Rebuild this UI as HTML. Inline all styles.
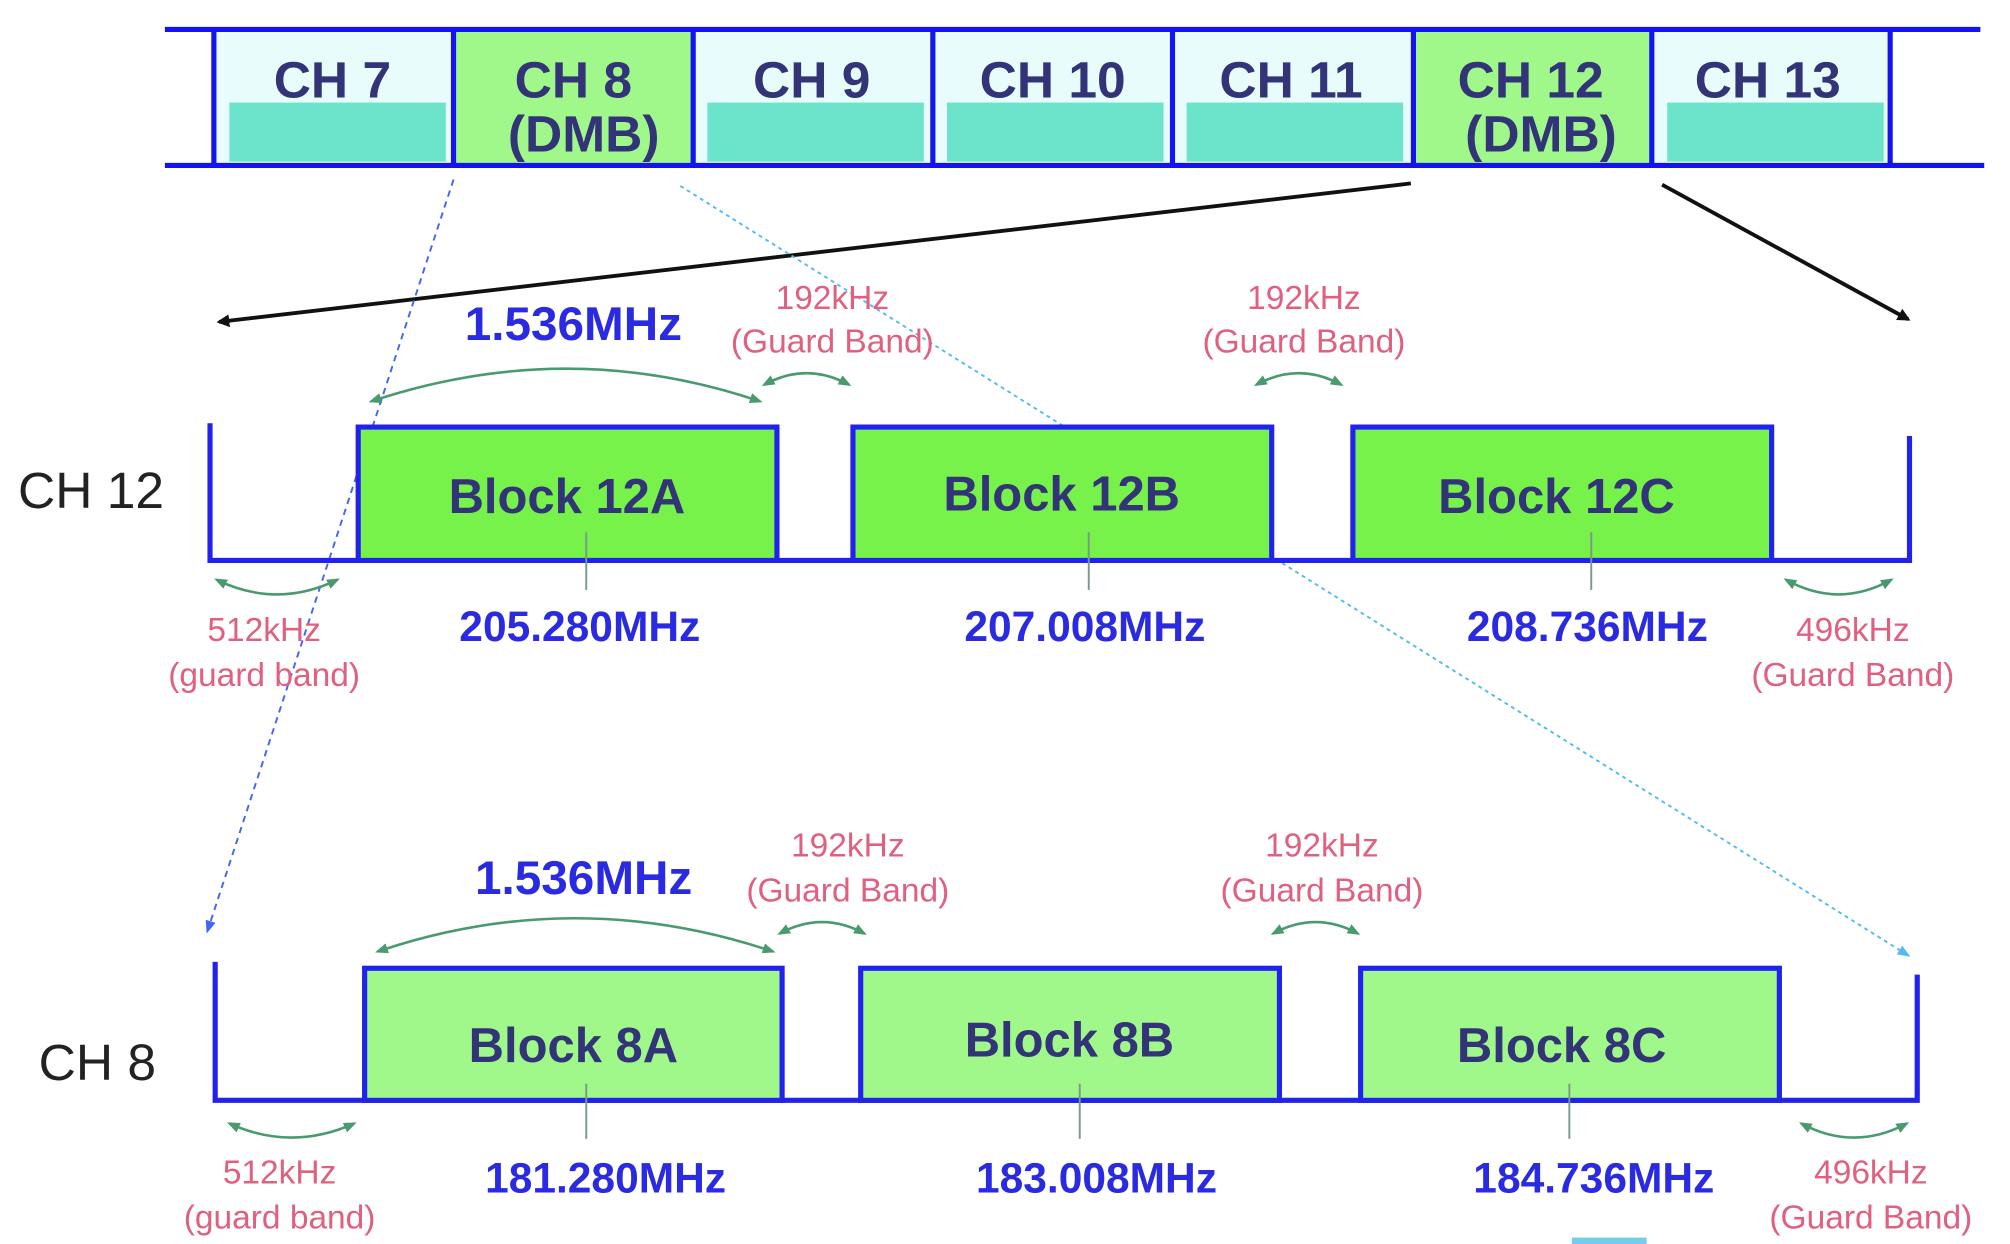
<!DOCTYPE html>
<html><head><meta charset="utf-8"><style>html,body{margin:0;padding:0;background:#fff}svg{display:block}</style></head>
<body>
<svg width="2010" height="1244" viewBox="0 0 1560 970" preserveAspectRatio="none" xmlns="http://www.w3.org/2000/svg" font-family="Liberation Sans, sans-serif">
<defs>
<marker id="ab" markerWidth="10" markerHeight="10" refX="8" refY="5" orient="auto" markerUnits="userSpaceOnUse"><path d="M0,0 L10,5 L0,10 z" fill="#111"/></marker>
<marker id="ag" markerWidth="10" markerHeight="10" refX="8" refY="5" orient="auto-start-reverse" markerUnits="userSpaceOnUse"><path d="M0,1 L10,5 L0,9 z" fill="#4a9a70"/></marker>
<marker id="al" markerWidth="10" markerHeight="10" refX="8" refY="5" orient="auto" markerUnits="userSpaceOnUse"><path d="M0,1 L10,5 L0,9 z" fill="#55bbee"/></marker>
<marker id="ad" markerWidth="10" markerHeight="10" refX="8" refY="5" orient="auto" markerUnits="userSpaceOnUse"><path d="M0,1 L10,5 L0,9 z" fill="#4466ee"/></marker>
</defs>
<g>
<rect x="166" y="24" width="1301" height="104" fill="#e8fcfc"/>
<rect x="352" y="24" width="186" height="104" fill="#a0f88a"/>
<rect x="1097" y="24" width="185" height="104" fill="#a0f88a"/>
<rect x="178" y="80" width="168" height="46" fill="#6ce4cc"/>
<rect x="549" y="80" width="168" height="46" fill="#6ce4cc"/>
<rect x="735" y="80" width="168" height="46" fill="#6ce4cc"/>
<rect x="921" y="80" width="168" height="46" fill="#6ce4cc"/>
<rect x="1294" y="80" width="168" height="46" fill="#6ce4cc"/>
<line x1="128" y1="23" x2="1537" y2="23" stroke="#1414ee" stroke-width="4"/>
<line x1="128" y1="129" x2="1540" y2="129" stroke="#1414ee" stroke-width="4"/>
<g stroke="#1414ee" stroke-width="4">
<line x1="166" y1="23" x2="166" y2="129"/><line x1="352" y1="23" x2="352" y2="129"/><line x1="538" y1="23" x2="538" y2="129"/><line x1="724" y1="23" x2="724" y2="129"/><line x1="910" y1="23" x2="910" y2="129"/><line x1="1097" y1="23" x2="1097" y2="129"/><line x1="1282" y1="23" x2="1282" y2="129"/><line x1="1467" y1="23" x2="1467" y2="129"/>
</g>
<g fill="#333377" font-size="40" font-weight="bold" text-anchor="middle">
<text x="258" y="76">CH 7</text>
<text x="445" y="76">CH 8</text><text x="453" y="118">(DMB)</text>
<text x="630" y="76">CH 9</text>
<text x="817" y="76">CH 10</text>
<text x="1002" y="76">CH 11</text>
<text x="1188" y="76">CH 12</text><text x="1196" y="118">(DMB)</text>
<text x="1372" y="76">CH 13</text>
</g>
</g>
<line x1="1095" y1="143" x2="170" y2="251" stroke="#111" stroke-width="3" marker-end="url(#ab)"/>
<line x1="1290" y1="144" x2="1481" y2="249" stroke="#111" stroke-width="3" marker-end="url(#ab)"/>
<line x1="352" y1="140" x2="161" y2="726" stroke="#4466ee" stroke-width="1.5" stroke-dasharray="5,4" marker-end="url(#ad)"/>
<line x1="528" y1="145" x2="1481" y2="745" stroke="#55bbee" stroke-width="1.5" stroke-dasharray="3,3" marker-end="url(#al)"/>
<text x="14" y="396" font-size="40" fill="#222">CH 12</text>
<path d="M163,330 V437 H1482 V340" fill="none" stroke="#2222ee" stroke-width="4"/>
<g fill="#77f24a" stroke="#2222ee" stroke-width="4">
<rect x="278" y="333" width="325" height="104"/><rect x="662" y="333" width="325" height="104"/><rect x="1050" y="333" width="325" height="104"/>
</g>
<g stroke="#7a9a88" stroke-width="1.5"><line x1="455" y1="415" x2="455" y2="460"/><line x1="845" y1="415" x2="845" y2="460"/><line x1="1235" y1="415" x2="1235" y2="460"/></g>
<g fill="#333377" font-size="38" font-weight="bold" text-anchor="middle">
<text x="440" y="400">Block 12A</text><text x="824" y="398">Block 12B</text><text x="1208" y="400">Block 12C</text>
</g>
<g fill="#2a2ae0" font-size="33" font-weight="bold" text-anchor="middle">
<text x="450" y="500">205.280MHz</text><text x="842" y="500">207.008MHz</text><text x="1232" y="500">208.736MHz</text>
<text x="445" y="265" font-size="37">1.536MHz</text>
</g>
<g fill="#e06080" font-size="26" text-anchor="middle">
<text x="646" y="241">192kHz</text><text x="646" y="275">(Guard Band)</text>
<text x="1012" y="241">192kHz</text><text x="1012" y="275">(Guard Band)</text>
<text x="205" y="500">512kHz</text><text x="205" y="535">(guard band)</text>
<text x="1438" y="500">496kHz</text><text x="1438" y="535">(Guard Band)</text>
</g>
<g fill="none" stroke="#4a9a70" stroke-width="2" marker-start="url(#ag)" marker-end="url(#ag)">
<path d="M288,313 Q440,262 590,313"/>
<path d="M593,300 Q626,282 659,300"/>
<path d="M975,300 Q1008,282 1041,300"/>
<path d="M168,452 Q215,475 262,452"/>
<path d="M1386,452 Q1427,475 1468,452"/>
</g>
<text x="30" y="842" font-size="40" fill="#222">CH 8</text>
<path d="M167,750 V858 H1488 V760" fill="none" stroke="#2222ee" stroke-width="4"/>
<g fill="#a0f88a" stroke="#2222ee" stroke-width="4">
<rect x="283" y="755" width="324" height="103"/><rect x="668" y="755" width="325" height="103"/><rect x="1056" y="755" width="325" height="103"/>
</g>
<g stroke="#7a9a88" stroke-width="1.5"><line x1="455" y1="845" x2="455" y2="888"/><line x1="838" y1="845" x2="838" y2="888"/><line x1="1218" y1="845" x2="1218" y2="888"/></g>
<g fill="#333377" font-size="38" font-weight="bold" text-anchor="middle">
<text x="445" y="828">Block 8A</text><text x="830" y="824">Block 8B</text><text x="1212" y="828">Block 8C</text>
</g>
<g fill="#2a2ae0" font-size="33" font-weight="bold" text-anchor="middle">
<text x="470" y="930">181.280MHz</text><text x="851" y="930">183.008MHz</text><text x="1237" y="930">184.736MHz</text>
<text x="453" y="697" font-size="37">1.536MHz</text>
</g>
<g fill="#e06080" font-size="26" text-anchor="middle">
<text x="658" y="668">192kHz</text><text x="658" y="703">(Guard Band)</text>
<text x="1026" y="668">192kHz</text><text x="1026" y="703">(Guard Band)</text>
<text x="217" y="923">512kHz</text><text x="217" y="958">(guard band)</text>
<text x="1452" y="923">496kHz</text><text x="1452" y="958">(Guard Band)</text>
</g>
<g fill="none" stroke="#4a9a70" stroke-width="2" marker-start="url(#ag)" marker-end="url(#ag)">
<path d="M293,742 Q446,690 600,742"/>
<path d="M605,728 Q638,710 671,728"/>
<path d="M988,728 Q1021,710 1054,728"/>
<path d="M178,876 Q226,898 275,876"/>
<path d="M1398,876 Q1439,898 1480,876"/>
</g>
<rect x="1220" y="965" width="58" height="5" fill="#77ccee"/>
</svg>
</body></html>
